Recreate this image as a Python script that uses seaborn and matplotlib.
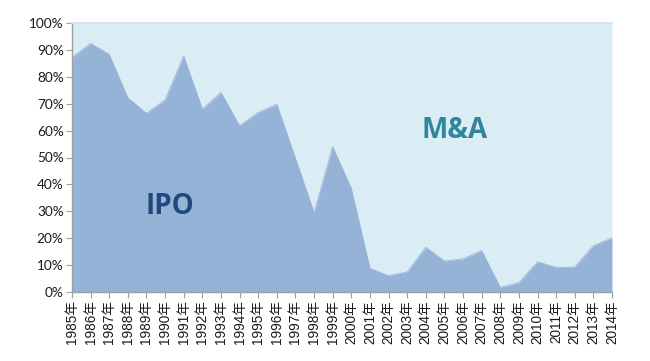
import matplotlib
matplotlib.use("Agg")
import matplotlib.pyplot as plt
import seaborn as sns
import numpy as np
import pandas as pd

years = list(range(1985, 2015))
year_labels = [f"{y}年" for y in years]
ipo_share = [87.2, 92.4, 88.3, 72.2, 66.4, 71.4, 87.7, 68.0, 74.2, 61.8,
             66.7, 69.8, 49.7, 29.5, 54.0, 38.5, 8.8, 6.1, 7.4, 16.6,
             11.5, 12.3, 15.4, 1.7, 3.5, 11.2, 9.2, 9.2, 17.2, 20.1]
total_share = [100.0] * len(years)
y_ticks = [0, 10, 20, 30, 40, 50, 60, 70, 80, 90, 100]

df = pd.DataFrame({"year": years, "IPO": ipo_share, "total": total_share})

sns.set_theme(style="white")
plt.rcParams["font.family"] = ["Liberation Sans", "Noto Sans CJK SC", "DejaVu Sans"]

fig = plt.figure(figsize=(6.5, 3.61), dpi=100)
ax = fig.add_axes([72 / 650, 1 - 292 / 361, 540 / 650, 269 / 361])

ma_color = "#DAEDF4"
ipo_color = "#95B3D7"

x = np.arange(len(years))
ax.fill_between(x, df["IPO"], df["total"], color=ma_color, linewidth=0)
ax.fill_between(x, 0, df["IPO"], color=ipo_color, linewidth=0)
sns.lineplot(x=x, y=df["IPO"], ax=ax, color=ipo_color, linewidth=0.6)

ax.set_xlim(0, len(years) - 1)
ax.set_ylim(0, 100)
ax.set_xticks(x)
ax.set_xticklabels(year_labels, rotation=90, fontsize=9.8, color="#1a1a1a",
                   family=["Liberation Sans", "Noto Sans CJK SC"])
ax.set_yticks(y_ticks)
ax.set_yticklabels([f"{v}%" for v in y_ticks], fontsize=9.8, color="#1a1a1a",
                   family=["Lato", "DejaVu Sans"])
ax.set_xlabel("")
ax.set_ylabel("")

for side in ["left", "bottom"]:
    ax.spines[side].set_visible(True)
    ax.spines[side].set_color("#A0A0A0")
    ax.spines[side].set_linewidth(1.0)
ax.spines["top"].set_visible(True)
ax.spines["top"].set_color("#D0E2E8")
ax.spines["right"].set_visible(False)
ax.tick_params(axis="both", which="both", direction="out", length=4,
               color="#A0A0A0", width=0.8, pad=2, bottom=True, left=True)

ax.text(170, 361 - 207, "IPO", transform=None, fontsize=20, fontweight="bold",
        color="#1F497D", ha="center", va="center",
        family=["Open Sans", "DejaVu Sans"])
ax.text(455, 361 - 130, "M&A", transform=None, fontsize=20, fontweight="bold",
        color="#31859C", ha="center", va="center",
        family=["Open Sans", "DejaVu Sans"])

fig.savefig("out.png", dpi=100, facecolor="white")
